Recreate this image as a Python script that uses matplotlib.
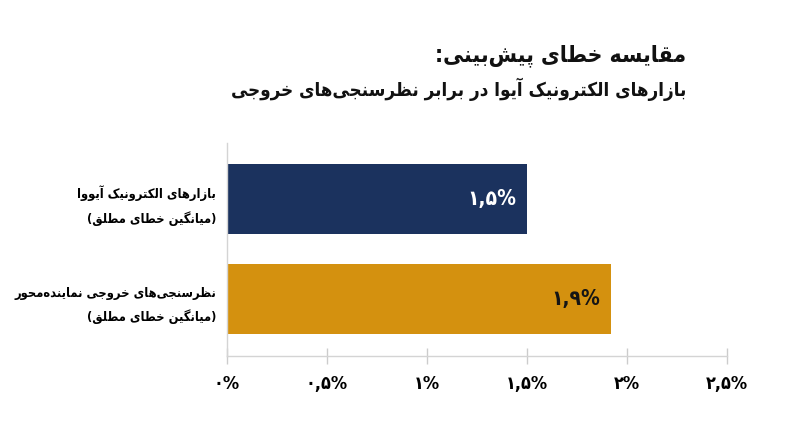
import matplotlib
matplotlib.use('Agg')
import matplotlib.pyplot as plt

# ---- data ----
title_lines = ['مقایسه خطای پیش\u200cبینی:',
               'بازارهای الکترونیک آیوا در برابر نظرسنجی\u200cهای خروجی']
categories = ['بازارهای الکترونیک آیووا\n(میانگین خطای مطلق)',
              'نظرسنجی\u200cهای خروجی نماینده\u200cمحور\n(میانگین خطای مطلق)']
values = [1.5, 1.92]
value_labels = ['۱,۵%', '۱,۹%']
bar_colors = ['#1b325e', '#d4910f']
label_colors = ['white', '#151515']
x_ticks = [0, 0.5, 1, 1.5, 2, 2.5]
x_tick_labels = ['۰%', '۰,۵%', '۱%', '۱,۵%', '۲%', '۲,۵%']

# ---- minimal persian shaping (matplotlib has no text shaping) ----
# isolated, final, initial, medial
FORMS = {
    '\u0622': ('\uFE81', '\uFE82', None, None),
    '\u0627': ('\uFE8D', '\uFE8E', None, None),
    '\u0628': ('\uFE8F', '\uFE90', '\uFE91', '\uFE92'),
    '\u062A': ('\uFE95', '\uFE96', '\uFE97', '\uFE98'),
    '\u062C': ('\uFE9D', '\uFE9E', '\uFE9F', '\uFEA0'),
    '\u062D': ('\uFEA1', '\uFEA2', '\uFEA3', '\uFEA4'),
    '\u062E': ('\uFEA5', '\uFEA6', '\uFEA7', '\uFEA8'),
    '\u062F': ('\uFEA9', '\uFEAA', None, None),
    '\u0631': ('\uFEAD', '\uFEAE', None, None),
    '\u0632': ('\uFEAF', '\uFEB0', None, None),
    '\u0633': ('\uFEB1', '\uFEB2', '\uFEB3', '\uFEB4'),
    '\u0634': ('\uFEB5', '\uFEB6', '\uFEB7', '\uFEB8'),
    '\u0637': ('\uFEC1', '\uFEC2', '\uFEC3', '\uFEC4'),
    '\u0638': ('\uFEC5', '\uFEC6', '\uFEC7', '\uFEC8'),
    '\u0642': ('\uFED5', '\uFED6', '\uFED7', '\uFED8'),
    '\u0644': ('\uFEDD', '\uFEDE', '\uFEDF', '\uFEE0'),
    '\u0645': ('\uFEE1', '\uFEE2', '\uFEE3', '\uFEE4'),
    '\u0646': ('\uFEE5', '\uFEE6', '\uFEE7', '\uFEE8'),
    '\u0647': ('\uFEE9', '\uFEEA', '\uFEEB', '\uFEEC'),
    '\u0648': ('\uFEED', '\uFEEE', None, None),
    '\u067E': ('\uFB56', '\uFB57', '\uFB58', '\uFB59'),
    '\u06A9': ('\uFB8E', '\uFB8F', '\uFB90', '\uFB91'),
    '\u06AF': ('\uFB92', '\uFB93', '\uFB94', '\uFB95'),
    '\u06CC': ('\uFBFC', '\uFBFD', '\uFBFE', '\uFBFF'),
}


def shape_line(line):
    out = []
    for i, ch in enumerate(line):
        if ch not in FORMS:
            out.append(ch)
            continue
        prev = line[i - 1] if i > 0 else None
        nxt = line[i + 1] if i + 1 < len(line) else None
        join_prev = prev in FORMS and FORMS[prev][2] is not None
        join_next = nxt in FORMS and FORMS[ch][2] is not None
        iso, fin, ini, med = FORMS[ch]
        if join_prev and join_next:
            out.append(med)
        elif join_prev:
            out.append(fin)
        elif join_next:
            out.append(ini)
        else:
            out.append(iso)
    vis = ''.join(c for c in out if c != '\u200c')[::-1]
    return vis.translate(str.maketrans('()', ')('))


def fa(text):
    return '\n'.join(shape_line(l) for l in text.split('\n'))


plt.rcParams['font.family'] = ['DejaVu Sans']
plt.rcParams['font.weight'] = 'bold'
plt.rcParams['font.stretch'] = 'condensed'

fig = plt.figure(figsize=(8, 4.47), dpi=100)
ax = fig.add_axes([227 / 800, 1 - 356 / 447, 500 / 800, 213 / 447])

pos = list(range(len(values)))
bars = ax.barh(pos, values, height=0.7, color=bar_colors)
ax.set_xlim(0, 2.5)
ax.set_ylim(1.57, -0.56)

for b, lab, c in zip(bars, value_labels, label_colors):
    ax.annotate(lab, (b.get_width(), b.get_y() + b.get_height() / 2),
                xytext=(-8, 0), textcoords='offset points',
                ha='right', va='center', color=c, fontsize=15, fontweight='bold')

ax.set_xticks(x_ticks)
ax.set_xticklabels(x_tick_labels, fontsize=13, fontweight='bold')
ax.set_yticks(pos)
ax.set_yticklabels([fa(c) for c in categories], fontsize=9.3, fontweight='bold',
                   linespacing=1.85)
ax.tick_params(axis='y', length=0, pad=8)
ax.tick_params(axis='x', direction='inout', length=12, width=1, color='#cccccc', pad=8)

for s in ['top', 'right']:
    ax.spines[s].set_visible(False)
for s in ['left', 'bottom']:
    ax.spines[s].set_color('#d4d4d4')
    ax.spines[s].set_linewidth(1)

fig.text(686 / 800, 1 - 61 / 447, fa(title_lines[0]), ha='right', va='baseline',
         fontsize=16.5, fontweight='bold', color='#111111')
fig.text(686 / 800, 1 - 96 / 447, fa(title_lines[1]), ha='right', va='baseline',
         fontsize=13.5, fontweight='bold', color='#111111')

fig.savefig('out.png', dpi=100, facecolor='white')
